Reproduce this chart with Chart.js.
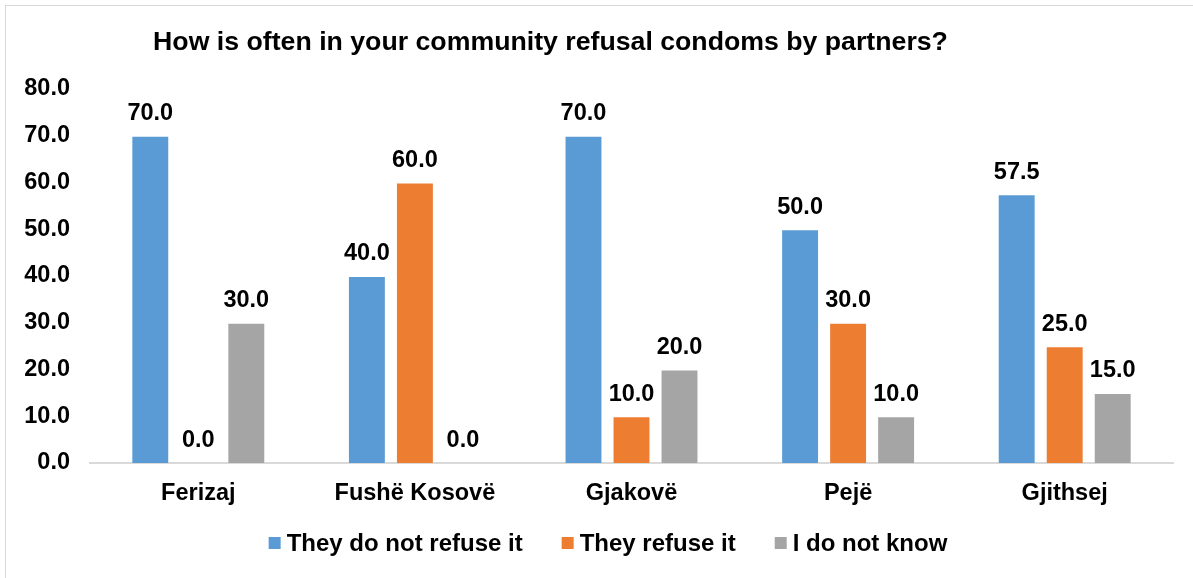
<!DOCTYPE html>
<html>
<head>
<meta charset="utf-8">
<script src="https://cdn.jsdelivr.net/npm/chart.js@4/dist/chart.umd.min.js"></script>
<style>
  html, body { margin: 0; padding: 0; background: #fff; overflow: hidden; }
  #wrap {
    position: absolute; left: 5px; top: 5px;
    width: 1200px; height: 580px;
    border: 1px solid #d9d9d9;
  }
  canvas { display: block; }
</style>
</head>
<body>
<div id="wrap"><canvas id="chart" width="1184" height="580"></canvas></div>
<script>
const chartTitle = 'How is often in your community refusal condoms by partners?';
const cities = ['Ferizaj', 'Fushë Kosovë', 'Gjakovë', 'Pejë', 'Gjithsej'];
const notRefuse = [70.0, 40.0, 70.0, 50.0, 57.5];
const refuse = [0.0, 60.0, 10.0, 30.0, 25.0];
const dontKnow = [30.0, 0.0, 20.0, 10.0, 15.0];
const seriesNames = ['They do not refuse it', 'They refuse it', 'I do not know'];
const seriesColors = ['#5B9BD5', '#ED7D31', '#A5A5A5'];

const FONT = 'Arial, "Liberation Sans", sans-serif';
const TEXT_SIZE = 23.5;

// title sits a little left of centre, like the original workbook chart
const titlePlugin = {
  id: 'leftTitle',
  afterDraw(chart) {
    const ctx = chart.ctx;
    ctx.save();
    ctx.font = 'bold 26.7px ' + FONT;
    ctx.fillStyle = '#000';
    ctx.textAlign = 'center';
    ctx.textBaseline = 'middle';
    ctx.fillText(chartTitle, 544.5, 37);
    ctx.restore();
  }
};

// value above each bar
const valueLabels = {
  id: 'valueLabels',
  afterDatasetsDraw(chart) {
    const ctx = chart.ctx;
    ctx.save();
    ctx.font = 'bold ' + TEXT_SIZE + 'px ' + FONT;
    ctx.fillStyle = '#000';
    ctx.textAlign = 'center';
    ctx.textBaseline = 'middle';
    chart.data.datasets.forEach((ds, i) => {
      chart.getDatasetMeta(i).data.forEach((bar, j) => {
        ctx.fillText(ds.data[j].toFixed(1), bar.x, bar.y - 22);
      });
    });
    ctx.restore();
  }
};

// legend row under the axis: square swatch, tight gap, text
const bottomLegend = {
  id: 'bottomLegend',
  afterDraw(chart) {
    const ctx = chart.ctx;
    const box = 12, gapText = 6, gapItem = 39, cy = 537, cx = 602;
    ctx.save();
    ctx.font = 'bold 24px ' + FONT;
    ctx.textBaseline = 'middle';
    ctx.textAlign = 'left';
    const items = chart.data.datasets.map(ds => ({
      text: ds.label, color: ds.backgroundColor, w: ctx.measureText(ds.label).width
    }));
    const total = items.reduce((s, it) => s + box + gapText + it.w, 0) + gapItem * (items.length - 1);
    let x = cx - total / 2;
    items.forEach(it => {
      ctx.fillStyle = it.color;
      ctx.fillRect(x, cy - box / 2, box, box);
      ctx.fillStyle = '#000';
      ctx.fillText(it.text, x + box + gapText, cy + 1);
      x += box + gapText + it.w + gapItem;
    });
    ctx.restore();
  }
};

new Chart(document.getElementById('chart'), {
  type: 'bar',
  data: {
    labels: cities,
    datasets: [notRefuse, refuse, dontKnow].map((d, i) => ({
      label: seriesNames[i],
      data: d,
      backgroundColor: seriesColors[i],
      borderColor: 'rgba(255,255,255,0.35)',
      borderWidth: 1,
      categoryPercentage: 0.665,
      barPercentage: 0.79
    }))
  },
  options: {
    responsive: false,
    animation: false,
    layout: { padding: { top: 83, right: 17, left: 0, bottom: 73 } },
    scales: {
      x: {
        grid: { display: false, drawTicks: false },
        border: { color: '#d9d9d9', width: 2 },
        ticks: { color: '#000', font: { family: FONT, size: TEXT_SIZE, weight: 'bold' }, padding: 16 },
        afterFit(scale) { scale.height = 50; }
      },
      y: {
        min: 0, max: 80,
        grid: { display: false, drawTicks: false },
        border: { display: false },
        ticks: {
          stepSize: 10,
          color: '#000',
          padding: 20,
          font: { family: FONT, size: TEXT_SIZE, weight: 'bold' },
          callback: v => v.toFixed(1)
        },
        afterFit(scale) { scale.width = 84; }
      }
    },
    plugins: {
      title: { display: false },
      tooltip: { enabled: false },
      legend: { display: false }
    }
  },
  plugins: [titlePlugin, valueLabels, bottomLegend]
});
</script>
</body>
</html>
